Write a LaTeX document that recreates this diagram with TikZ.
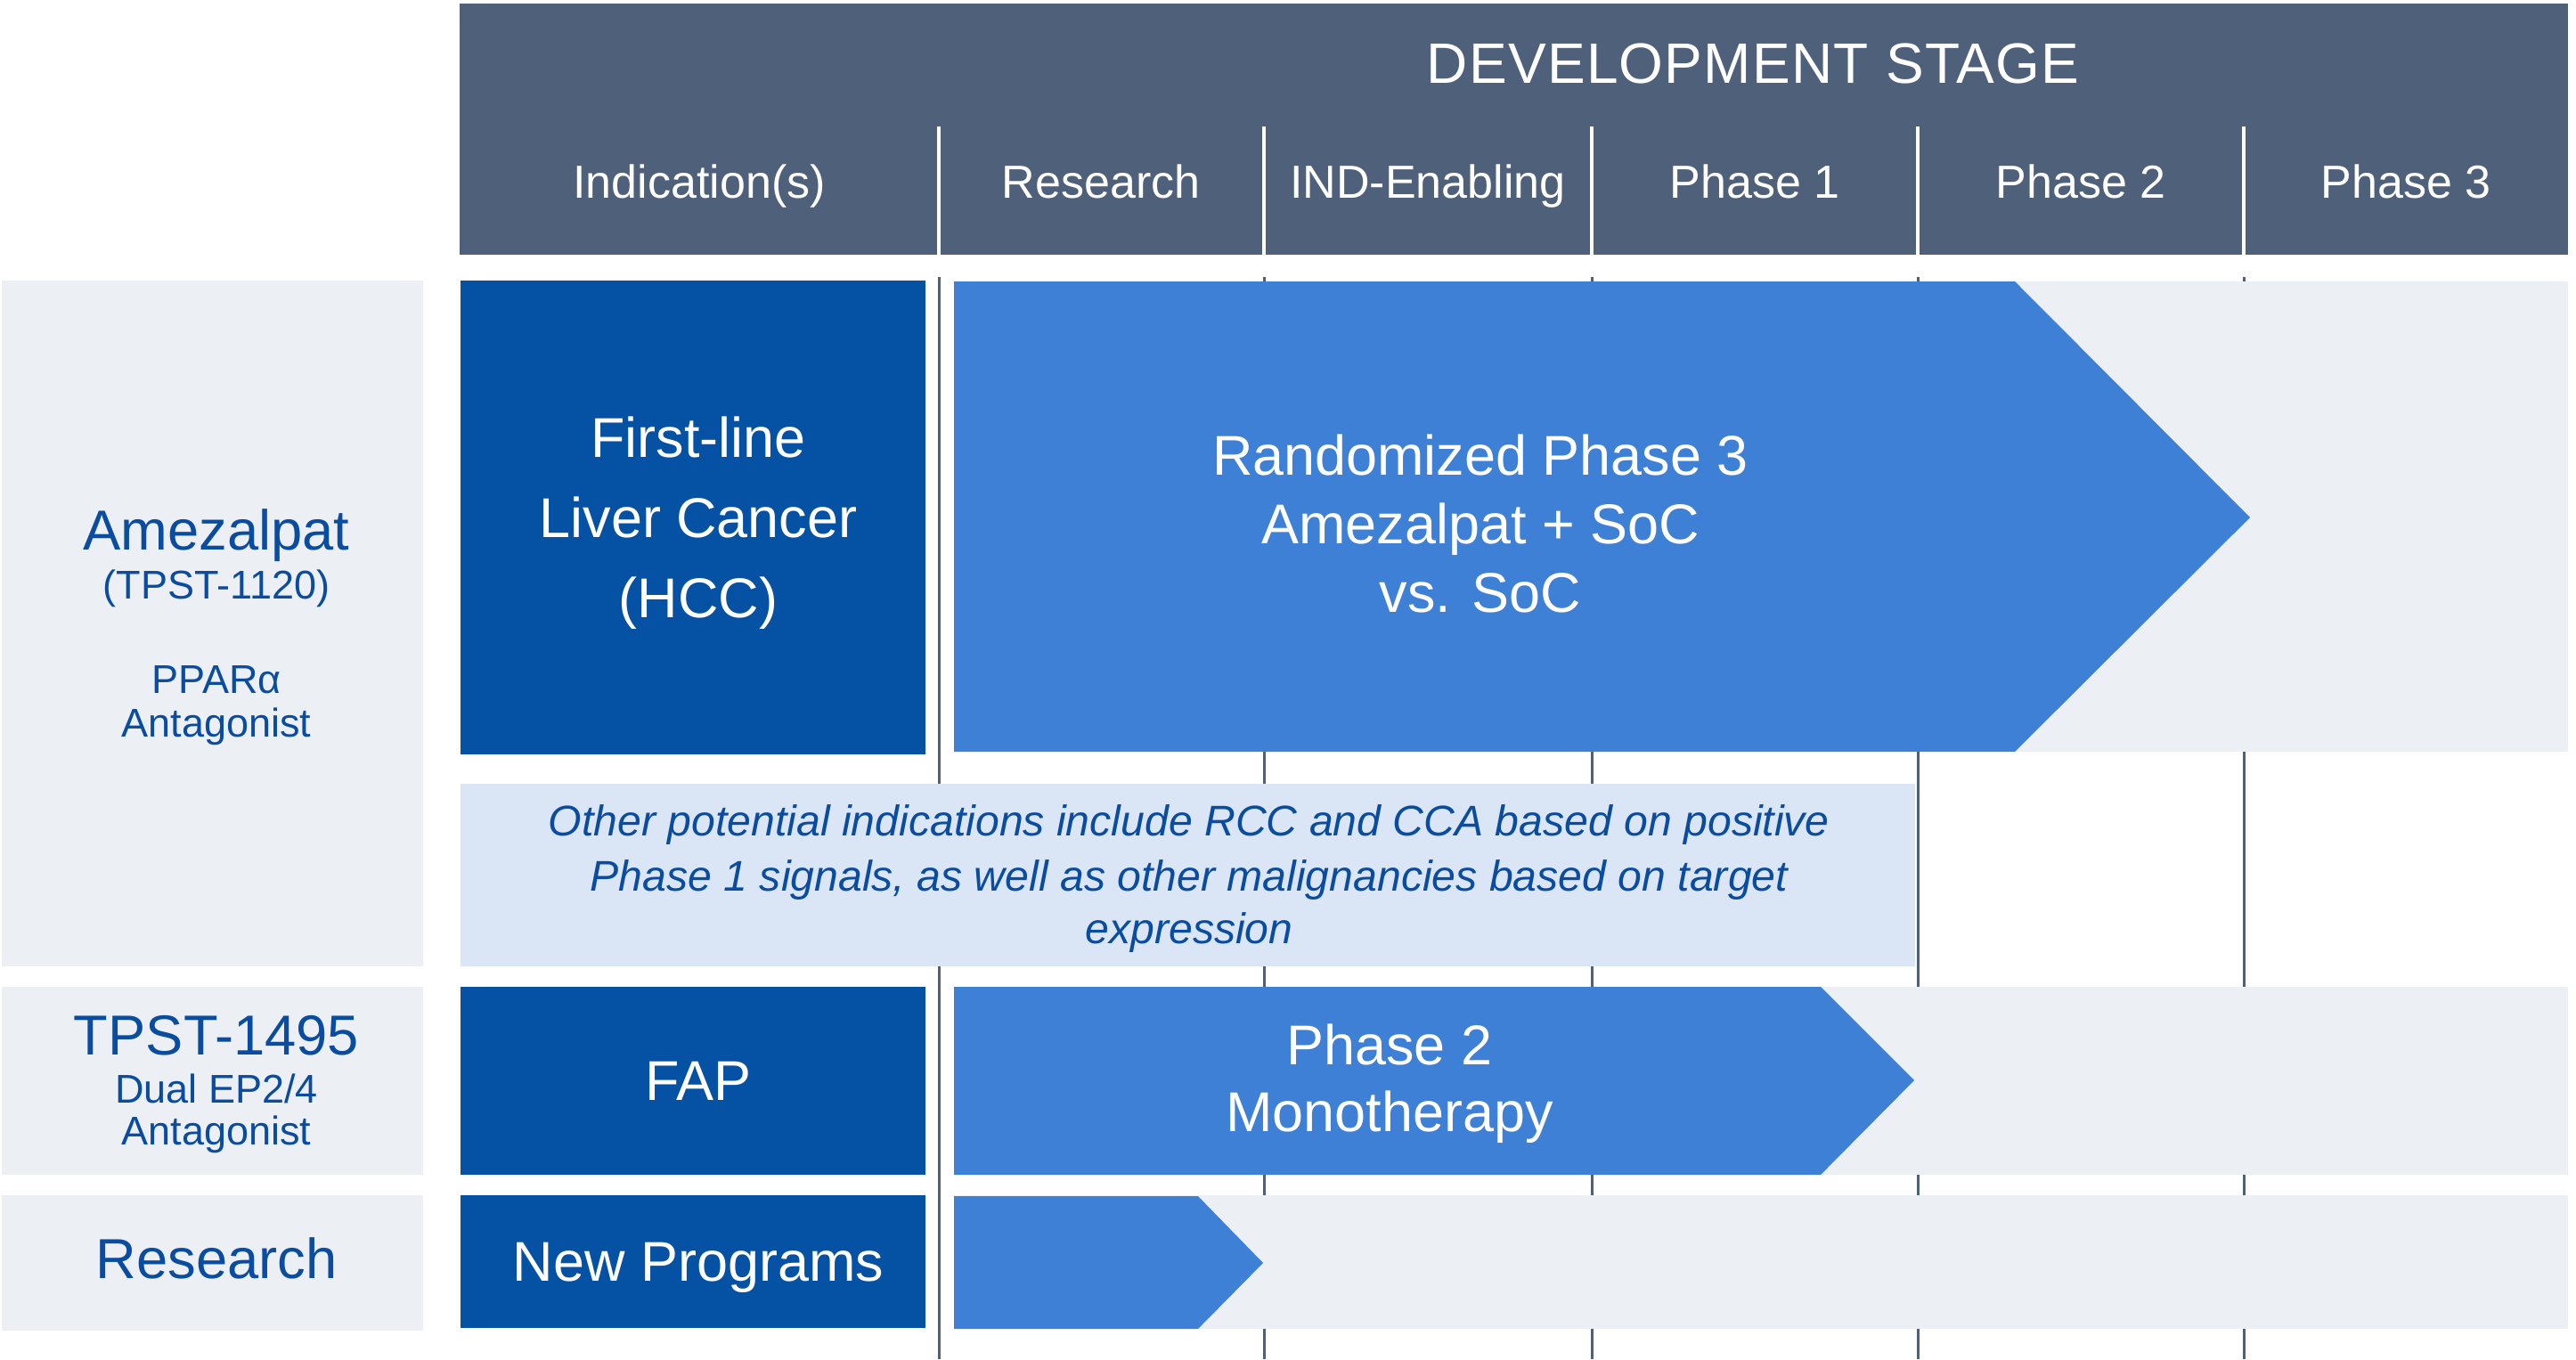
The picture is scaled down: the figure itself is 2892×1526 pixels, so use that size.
\documentclass[tikz,border=0pt]{standalone}
\usepackage{fontspec}
\setmainfont{Liberation Sans}
\definecolor{hdr}{RGB}{78,96,122}
\definecolor{dkblue}{RGB}{5,81,163}
\definecolor{barblue}{RGB}{62,128,213}
\definecolor{band}{RGB}{236,240,245}
\definecolor{notebg}{RGB}{218,230,246}
\definecolor{lbl}{RGB}{10,76,160}
\definecolor{gridc}{RGB}{78,96,122}
\tikzset{
  txt/.style={anchor=base, inner sep=0pt, outer sep=0pt},
  hdrlabel/.style={txt, text=white, font=\fontsize{14.8}{17}\selectfont},
  bigwhite/.style={txt, text=white, font=\fontsize{17.9}{21}\selectfont},
  biglbl/.style={txt, text=lbl, font=\fontsize{18.0}{21}\selectfont},
  smalllbl/.style={txt, text=lbl, font=\fontsize{12.8}{15}\selectfont},
  notetxt/.style={txt, text=lbl, font=\fontsize{13.7}{16}\selectfont\itshape},
  gridline/.style={draw=gridc, line width=0.85pt},
  hdrdiv/.style={draw=white, line width=1pt},
}
\begin{document}
\begin{tikzpicture}[x=0.01cm,y=-0.01cm]
\useasboundingbox (0,0) rectangle (2892,1526);
\fill[white] (0,0) rectangle (2892,1526);

% grid lines (behind)
\foreach \gx in {1054,1419,1787,2153,2519}{
  \coordinate (gt\gx) at (\gx,311);
  \coordinate (gb\gx) at (\gx,1526);
  \draw[gridline] (gt\gx) -- (gb\gx);
}

% header
\fill[hdr] (516,4) rectangle (2883,286);
\foreach \gx in {1054,1419,1787,2153,2519}{
  \coordinate (ht\gx) at (\gx,142);
  \coordinate (hb\gx) at (\gx,286);
  \draw[hdrdiv] (ht\gx) -- (hb\gx);
}
\node[txt, text=white, font=\fontsize{18.2}{21}\selectfont\addfontfeature{LetterSpace=2.0}] (devstage) at (1968,93) {DEVELOPMENT STAGE};
\node[hdrlabel] (hInd) at (785,222) {Indication(s)};
\node[hdrlabel] (hRes) at (1236,222) {Research};
\node[hdrlabel] (hIND) at (1603,222) {IND-Enabling};
\node[hdrlabel] (hP1) at (1970,222) {Phase 1};
\node[hdrlabel] (hP2) at (2336,222) {Phase 2};
\node[hdrlabel] (hP3) at (2701,222) {Phase 3};

% light bands
\fill[band] (1071,316) rectangle (2883,844);
\fill[band] (1071,1108) rectangle (2883,1319);
\fill[band] (1071,1342) rectangle (2883,1492);

% left label boxes
\fill[band] (2,315) rectangle (475,1085);
\fill[band] (2,1108) rectangle (475,1319);
\fill[band] (2,1342) rectangle (475,1494);

% indication boxes
\fill[dkblue] (517,315) rectangle (1039,847);
\fill[dkblue] (517,1108) rectangle (1039,1319);
\fill[dkblue] (517,1342) rectangle (1039,1491);

% note box
\fill[notebg] (517,880) rectangle (2150,1085);

% bars
\fill[barblue] (1071,316) -- (2262,316) -- (2526,581) -- (2262,844) -- (1071,844) -- cycle;
\fill[barblue] (1071,1108) -- (2044,1108) -- (2149,1213) -- (2044,1319) -- (1071,1319) -- cycle;
\fill[barblue] (1071,1343) -- (1345,1343) -- (1418,1418) -- (1345,1492) -- (1071,1492) -- cycle;

% left labels row 1
\node[biglbl] (amz) at (243,617) {Amezalpat};
\node[smalllbl] (amzcode) at (243,672) {(TPST-1120)};
\node[smalllbl] (ppar) at (243,778) {PPARα};
\node[smalllbl] (amzant) at (243,827) {Antagonist};
% row 2
\node[biglbl] (tpst) at (243,1184) {TPST-1495};
\node[smalllbl] (dual) at (243,1238) {Dual EP2/4};
\node[smalllbl] (tpstant) at (243,1285) {Antagonist};
% row 3
\node[biglbl] (resl) at (243,1435) {Research};

% indication texts
\node[bigwhite] (ind1a) at (784,513) {First-line};
\node[bigwhite] (ind1b) at (784,603) {Liver Cancer};
\node[bigwhite] (ind1c) at (784,693) {(HCC)};
\node[bigwhite] (fap) at (784,1235) {FAP};
\node[bigwhite] (newp) at (784,1438) {New Programs};

% bar texts
\node[bigwhite] (b1a) at (1662,533) {Randomized Phase 3};
\node[bigwhite] (b1b) at (1662,610) {Amezalpat + SoC};
\node[bigwhite] (b1c) at (1662,687) {vs. SoC};
\node[bigwhite] (b2a) at (1560,1195) {Phase 2};
\node[bigwhite] (b2b) at (1560,1270) {Monotherapy};

% note texts
\node[notetxt] (n1) at (1335,938) {Other potential indications include RCC and CCA based on positive};
\node[notetxt] (n2) at (1335,1000) {Phase 1 signals, as well as other malignancies based on target};
\node[notetxt] (n3) at (1335,1059) {expression};
\end{tikzpicture}
\end{document}
